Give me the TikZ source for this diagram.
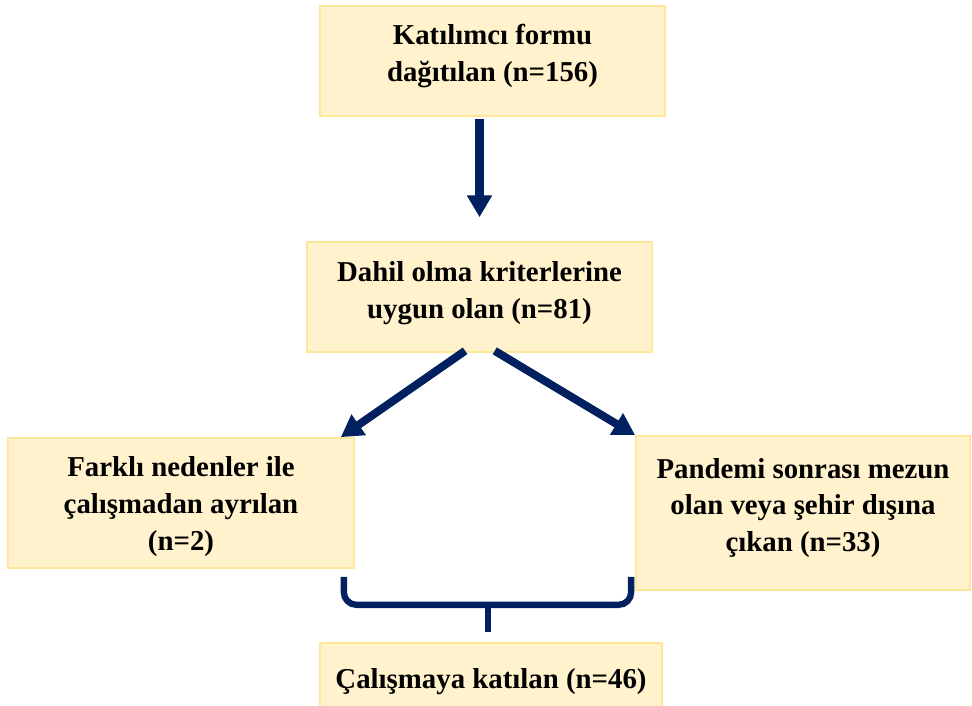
\documentclass[tikz,border=0pt]{standalone}
\usepackage{fontspec}
\setmainfont{Liberation Serif}
\usetikzlibrary{arrows.meta, calc}
\definecolor{boxfill}{HTML}{FFF2CC}
\definecolor{boxline}{HTML}{FFE699}
\definecolor{navy}{HTML}{002060}

\begin{document}
\begin{tikzpicture}[
        stage/.style={
            rectangle,
            draw=boxline,
            line width=1.2pt,
            fill=boxfill,
            align=center,
            inner sep=0pt,
            font=\fontsize{20.5}{26.2}\selectfont\bfseries
        },
        arrow/.style={
            navy,
            line width=5.7pt,
            -{Triangle[width=17pt, length=15.5pt]}
        },
        brace/.style={
            navy,
            line width=4.5pt,
            rounded corners=9pt
        }
    ]
    \useasboundingbox (0,0) rectangle (24.3,-17.65);

    % Nodes
    \node (distributed) [stage, minimum width=8.625cm, minimum height=2.75cm, text depth=11.5pt] at (12.3125,-1.525)
        {Katılımcı formu\\dağıtılan (n=156)};
    \node (eligible) [stage, minimum width=8.625cm, minimum height=2.75cm, text depth=10pt] at (11.9875,-7.425)
        {Dahil olma kriterlerine\\uygun olan (n=81)};
    \node (dropped) [stage, minimum width=8.65cm, minimum height=3.25cm, text height=72pt] at (4.525,-12.575)
        {Farklı nedenler ile\\çalışmadan ayrılan\\(n=2)};
    \node (moved) [stage, minimum width=8.35cm, minimum height=3.85cm, text depth=11.5pt] at (20.075,-12.825)
        {Pandemi sonrası mezun\\olan veya şehir dışına\\çıkan (n=33)};
    \node (joined) [stage, minimum width=8.55cm, minimum height=1.75cm, text height=19pt] at (12.275,-16.95)
        {Çalışmaya katılan (n=46)};

    % Arrows
    \draw [arrow, shorten <=1.5pt, shorten >=0.6cm] (distributed.south -| eligible.north) -- (eligible.north);
    \draw [arrow] ($(eligible.south)+(-0.36,0.05)$) -- ($(dropped.north east)+(-0.35,0)$);
    \draw [arrow] ($(eligible.south)+(0.38,0.05)$) -- (moved.north west);

    % Bracket
    \coordinate (bl) at ($(dropped.south east)+(-0.275,-0.2)$);
    \coordinate (br) at ($(moved.west |- bl)+(-0.1,0)$);
    \draw [brace] (bl) -- ($(bl)+(0,-0.7)$) -- ($(br)+(0,-0.7)$) -- (br);
    \draw [brace] ($(joined.north)+(-0.075,0.95)$) -- ($(joined.north)+(-0.075,0.25)$);

\end{tikzpicture}
\end{document}
